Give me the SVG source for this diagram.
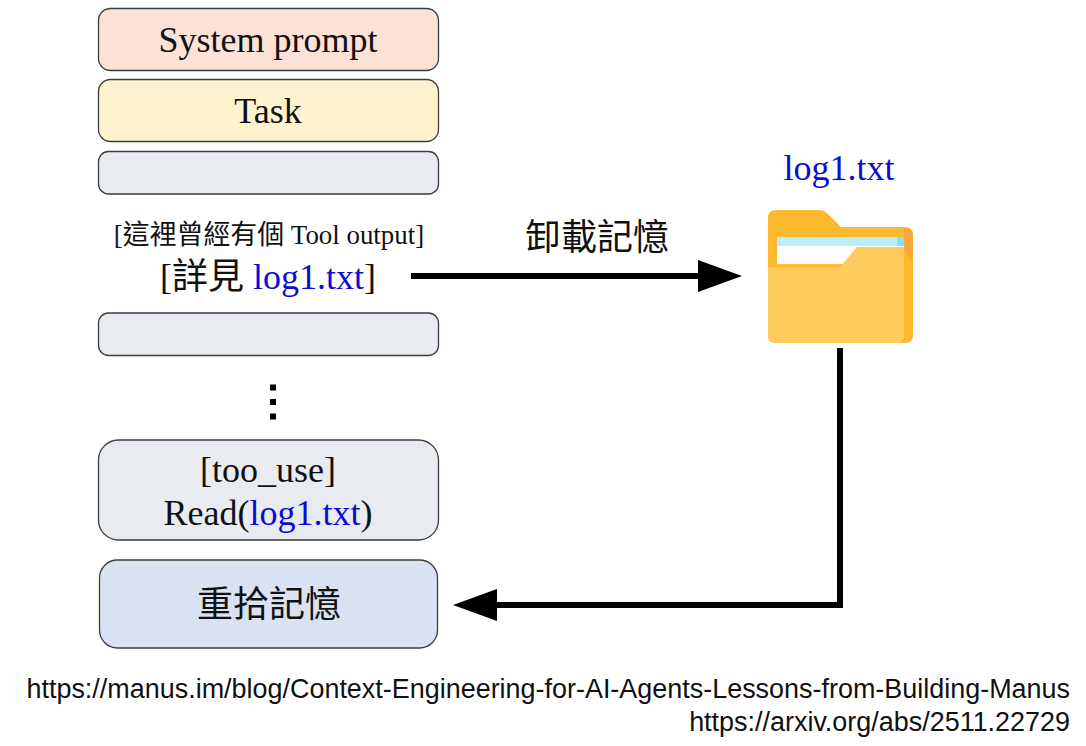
<svg xmlns="http://www.w3.org/2000/svg" width="1086" height="746" viewBox="0 0 1086 746">
<style>
.box{stroke:#3c3c3c;stroke-width:1.3}
text{font-family:"Liberation Serif","Noto Sans CJK TC",serif;fill:#111;text-anchor:middle}
.t{font-size:36px}
.blue{fill:#0b0bd6}
.url{font-family:"Liberation Sans",Arial,sans-serif;font-size:26.950px;text-anchor:end}
.line{fill:none;stroke:#000;stroke-width:6}
</style>
<defs>
<marker id="head" markerUnits="userSpaceOnUse" markerWidth="46" markerHeight="34" refX="2" refY="16" orient="auto"><path d="M0 0L44 16L0 32z" fill="#000"/></marker>
</defs>
<rect width="1086" height="746" fill="#fff"/>
<g id="system-prompt"><rect class="box" x="98.500" y="8.500" width="340" height="62" rx="12" fill="#fce1d6"/><text class="t" x="268" y="52">System prompt</text></g>
<g id="task"><rect class="box" x="98.500" y="79.500" width="340" height="62" rx="12" fill="#fff2cf"/><text class="t" x="268" y="123">Task</text></g>
<g id="blank-1"><rect class="box" x="98.500" y="151.500" width="340" height="42.500" rx="10" fill="#e8ebf0"/></g>
<g id="tool-output"><text x="269" y="244" font-size="26.900">[這裡曾經有個 Tool output]</text><text x="268" y="289" font-size="36">[詳見 <tspan class="blue">log1.txt</tspan>]</text></g>
<g id="blank-2"><rect class="box" x="98.500" y="313" width="340" height="42.500" rx="10" fill="#e8ebf0"/></g>
<g id="dots"><rect x="270" y="384.500" width="6" height="6" fill="#000"/><rect x="270" y="399" width="6" height="6" fill="#000"/><rect x="270" y="413.500" width="6" height="6" fill="#000"/></g>
<g id="tool-use"><rect class="box" x="98.500" y="440" width="340" height="100" rx="20" fill="#e8ebf0"/><text class="t" x="268" y="482">[too_use]</text><text class="t" x="268" y="525">Read(<tspan class="blue">log1.txt</tspan>)</text></g>
<g id="recall"><rect class="box" x="99.500" y="560" width="338" height="88" rx="18" fill="#d9e2f3"/><text class="t" x="269" y="617">重拾記憶</text></g>
<g id="folder">
<text class="t blue" x="839" y="180">log1.txt</text>
<path d="M776 210H820Q824 210 827 213L841 227H905Q913 227 913 235V335Q913 343 905 343H776Q768 343 768 335V218Q768 210 776 210Z" fill="#ffb92f"/>
<path d="M904 228Q913 229 913 236V262L904 250Z" fill="#fba63c"/>
<rect x="777" y="237" width="127" height="27" fill="#fff"/>
<path d="M777 237H904V246H777Z" fill="#bdeef3"/>
<rect x="897" y="237" width="7" height="9" fill="#7fe3f4"/>
<path d="M768 267H840L857 247H904V335Q904 343 897 343H776Q768 343 768 335Z" fill="#ffcb5f"/>
</g>
<g id="connectors">
<path class="line" d="M411 276H700" marker-end="url(#head)"/>
<path class="line" d="M840 348V605H495" marker-end="url(#head)"/>
</g>
<text id="offload-label" class="t" x="597" y="250">卸載記憶</text>
<g id="references"><text class="url" x="1070" y="698">https://manus.im/blog/Context-Engineering-for-AI-Agents-Lessons-from-Building-Manus</text><text class="url" x="1070" y="731">https://arxiv.org/abs/2511.22729</text></g>
</svg>
